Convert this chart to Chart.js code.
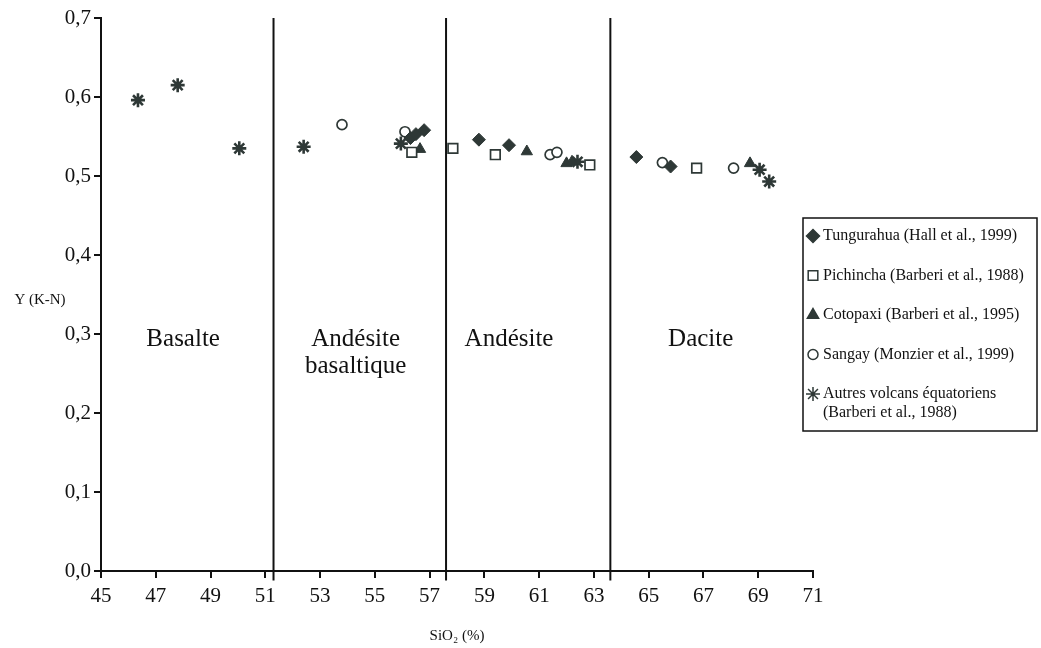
<!DOCTYPE html>
<html>
<head>
<meta charset="UTF-8">
<script src="https://cdn.jsdelivr.net/npm/chart.js@4.4.1/dist/chart.umd.min.js"></script>
<title>Y (K-N) vs SiO2</title>
<style>
  html, body { margin: 0; padding: 0; background: #fff; }
  #wrap { width: 1041px; height: 648px; }
</style>
</head>
<body>
<div id="wrap"><canvas id="plot" width="1041" height="648"></canvas></div>
<script>
// --- données ---
const tungX = [56.3, 56.5, 56.8, 58.8, 59.9, 64.55, 65.8];
const tungY = [0.548, 0.553, 0.558, 0.546, 0.539, 0.524, 0.512];

const pichX = [56.35, 57.85, 59.4, 62.85, 66.75];
const pichY = [0.530, 0.535, 0.527, 0.514, 0.510];

const cotoX = [56.65, 60.55, 62.0, 62.2, 68.7];
const cotoY = [0.534, 0.531, 0.516, 0.518, 0.516];

const sangX = [53.8, 56.1, 61.4, 61.65, 65.5, 68.1];
const sangY = [0.565, 0.556, 0.527, 0.530, 0.517, 0.510];

const autX = [46.35, 47.8, 50.05, 52.4, 55.95, 62.4, 69.05, 69.4];
const autY = [0.596, 0.615, 0.535, 0.537, 0.541, 0.518, 0.508, 0.493];

// limites des domaines (SiO2 %)
const limits = [51.3, 57.6, 63.6];
const limitLow = -0.012, limitHigh = 0.7;
const zoneNames = [["Basalte"], ["Andésite", "basaltique"], ["Andésite"], ["Dacite"]];
const zoneX = [48.0, 54.3, 59.9, 66.9];
const zoneY = 0.293;

const legendLabels = [
    ["Tungurahua (Hall et al., 1999)"],
    ["Pichincha (Barberi et al., 1988)"],
    ["Cotopaxi (Barberi et al., 1995)"],
    ["Sangay (Monzier et al., 1999)"],
    ["Autres volcans équatoriens", "(Barberi et al., 1988)"]
];

const INK = '#2e3836';
const SERIF = '"Liberation Serif", "DejaVu Serif", serif';

function pts(xs, ys) { return xs.map((x, i) => ({ x: x, y: ys[i] })); }

const series = [
    { data: pts(tungX, tungY), pointStyle: 'rectRot', pointRadius: 6.5, backgroundColor: INK, borderColor: INK, pointBorderWidth: 1 },
    { data: pts(pichX, pichY), pointStyle: 'rect', pointRadius: 6.8, backgroundColor: '#fff', borderColor: INK, pointBorderWidth: 1.7 },
    { data: pts(cotoX, cotoY), pointStyle: 'triangle', pointRadius: 6.5, backgroundColor: INK, borderColor: INK, pointBorderWidth: 1 },
    { data: pts(sangX, sangY), pointStyle: 'circle', pointRadius: 5, backgroundColor: '#fff', borderColor: INK, pointBorderWidth: 1.7 },
    { data: pts(autX, autY), pointStyle: 'star', pointRadius: 7, backgroundColor: INK, borderColor: INK, pointBorderWidth: 2.6 }
];

const datasets = [];
limits.forEach(v => {
    datasets.push({
        type: 'line', data: [{ x: v, y: limitLow }, { x: v, y: limitHigh }],
        borderColor: '#111', borderWidth: 2, pointRadius: 0, clip: false
    });
});
series.forEach((s, i) => {
    datasets.push(Object.assign({ type: 'scatter', label: legendLabels[i].join(' '), showLine: false }, s));
});

// zones, titres et légende encadrée
const decor = {
    id: 'decor',
    afterDatasetsDraw(chart) {
        const ctx = chart.ctx;
        const xs = chart.scales.x, ys = chart.scales.y;
        ctx.save();
        ctx.fillStyle = '#111';
        ctx.textAlign = 'center';
        ctx.textBaseline = 'middle';
        ctx.font = '25px ' + SERIF;
        zoneNames.forEach((lines, i) => {
            const cx = xs.getPixelForValue(zoneX[i]);
            const cy = ys.getPixelForValue(zoneY);
            lines.forEach((t, j) => ctx.fillText(t, cx, cy + j * 27));
        });

        // titres des axes
        ctx.font = '15px ' + SERIF;
        ctx.fillText('Y (K-N)', 40, 300);
        ctx.fillText('SiO\u2082 (%)', 457, 636);

        // légende
        const bx = 803, by = 218, bw = 234, bh = 213;
        ctx.strokeStyle = '#111';
        ctx.lineWidth = 1.5;
        ctx.strokeRect(bx, by, bw, bh);
        ctx.textAlign = 'left';
        ctx.font = '16px ' + SERIF;
        let y = by + 18;
        series.forEach((s, i) => {
            ctx.fillStyle = s.backgroundColor;
            ctx.strokeStyle = s.borderColor;
            Chart.helpers.drawPoint(ctx, {
                pointStyle: s.pointStyle, radius: s.pointRadius, rotation: 0,
                borderWidth: s.pointBorderWidth
            }, bx + 10, y);
            ctx.fillStyle = '#111';
            legendLabels[i].forEach((t, j) => ctx.fillText(t, bx + 20, y + j * 19));
            y += 39.5;
        });
        ctx.restore();
    }
};

const chart = new Chart(document.getElementById('plot'), {
    type: 'scatter',
    data: { datasets: datasets },
    options: {
        responsive: false,
        animation: false,
        layout: { padding: { left: 0, top: 18, right: 228, bottom: 0 } },
        plugins: { legend: { display: false }, tooltip: { enabled: false } },
        scales: {
            x: {
                type: 'linear', min: 45, max: 71,
                afterFit: s => { s.height = 77; },
                border: { display: true, color: '#111', width: 2 },
                grid: { drawOnChartArea: false, tickLength: 7, color: '#111', lineWidth: 2 },
                ticks: { stepSize: 2, color: '#111', padding: 6, font: { family: SERIF, size: 21 }, maxRotation: 0 }
            },
            y: {
                type: 'linear', min: 0, max: 0.7,
                afterFit: s => { s.width = 101; },
                border: { display: true, color: '#111', width: 2 },
                grid: { drawOnChartArea: false, tickLength: 7, color: '#111', lineWidth: 2 },
                ticks: {
                    stepSize: 0.1, color: '#111', padding: 3, font: { family: SERIF, size: 21 },
                    callback: v => v.toFixed(1).replace('.', ',')
                }
            }
        }
    },
    plugins: [decor]
});
</script>
</body>
</html>
